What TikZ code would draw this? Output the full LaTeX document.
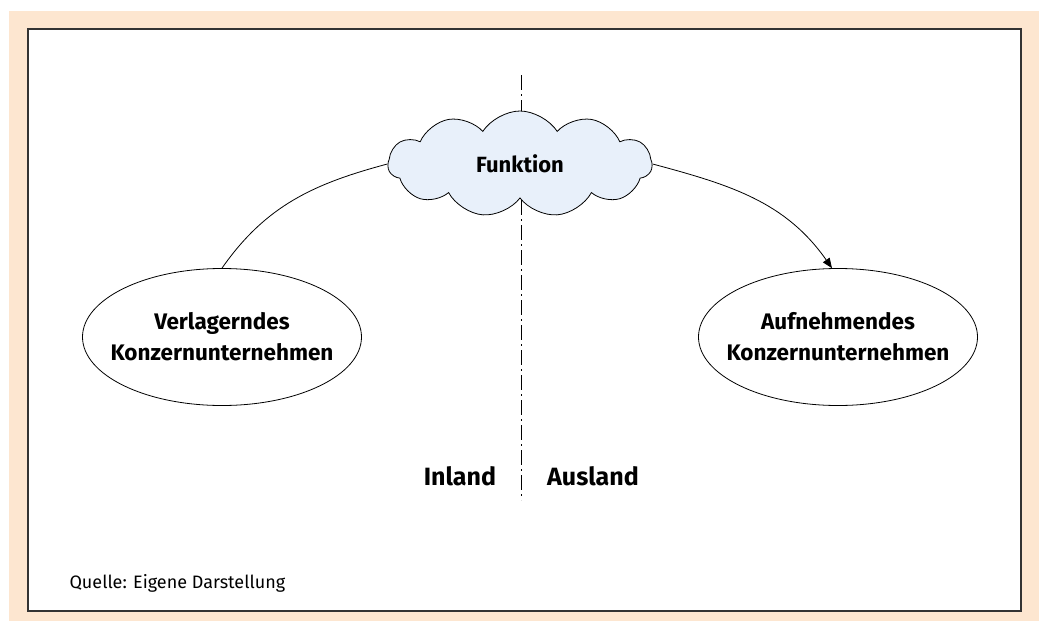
\documentclass[tikz,border=0pt]{standalone}
\usepackage{fontspec}
\setmainfont{Fira Sans}
\usetikzlibrary{arrows.meta}
\usetikzlibrary{shapes.geometric}
\usetikzlibrary{shapes.symbols}
\usetikzlibrary{positioning}
\definecolor{framepeach}{RGB}{253,230,208}
\definecolor{cloudblue}{RGB}{232,240,250}

\begin{document}
\begin{tikzpicture}[x=1pt,y=-1pt,
    company/.style={ellipse, draw, line width=0.8pt, fill=white, minimum width=279pt, minimum height=137pt,
      inner xsep=-14pt, align=center, font=\fontsize{22.5}{31}\selectfont\bfseries},
    sidelabel/.style={font=\fontsize{25}{30}\selectfont\bfseries}]
  \useasboundingbox (0,0) rectangle (1042,621);
  \fill[white] (0,0) rectangle (1042,621);
  \fill[framepeach] (9,11) rectangle (1039,621);
  \draw[fill=white, line width=1.5pt, draw=black!80] (28,29) rectangle (1021,611);

  % Grenze Inland / Ausland
  \coordinate (grenzeoben) at (521,75);
  \coordinate (grenzeunten) at (521,500);
  \draw[dash pattern=on 15pt off 4pt on 2pt off 4pt, line width=0.8pt] (grenzeoben) -- (grenzeunten);

  \node [cloud, cloud puffs=11, cloud puff arc=115, aspect=2.4, draw, line width=0.8pt, fill=cloudblue,
    minimum width=264pt, minimum height=106pt, font=\fontsize{22}{26}\selectfont\bfseries] (funktion) at (520,164) {Funktion};

  \node [company] (verlagernd) at (222,337) {Verlagerndes\\Konzernunternehmen};
  \node [company] (aufnehmend) at (838,337) {Aufnehmendes\\Konzernunternehmen};

  \draw [line width=0.8pt] (verlagernd.north) to[out=55, in=195] (funktion.west);
  \draw [line width=0.8pt, -{Triangle[length=10pt, width=8pt]}] (funktion.east) to[out=-15, in=125] (aufnehmend.95);

  \node [sidelabel] (inland) at (460,476) {Inland};
  \node [sidelabel] (ausland) at (593,476) {Ausland};

  \node [anchor=west, font=\fontsize{18}{22}\selectfont] (quelle) at (66,583) {Quelle: Eigene Darstellung};
\end{tikzpicture}
\end{document}
